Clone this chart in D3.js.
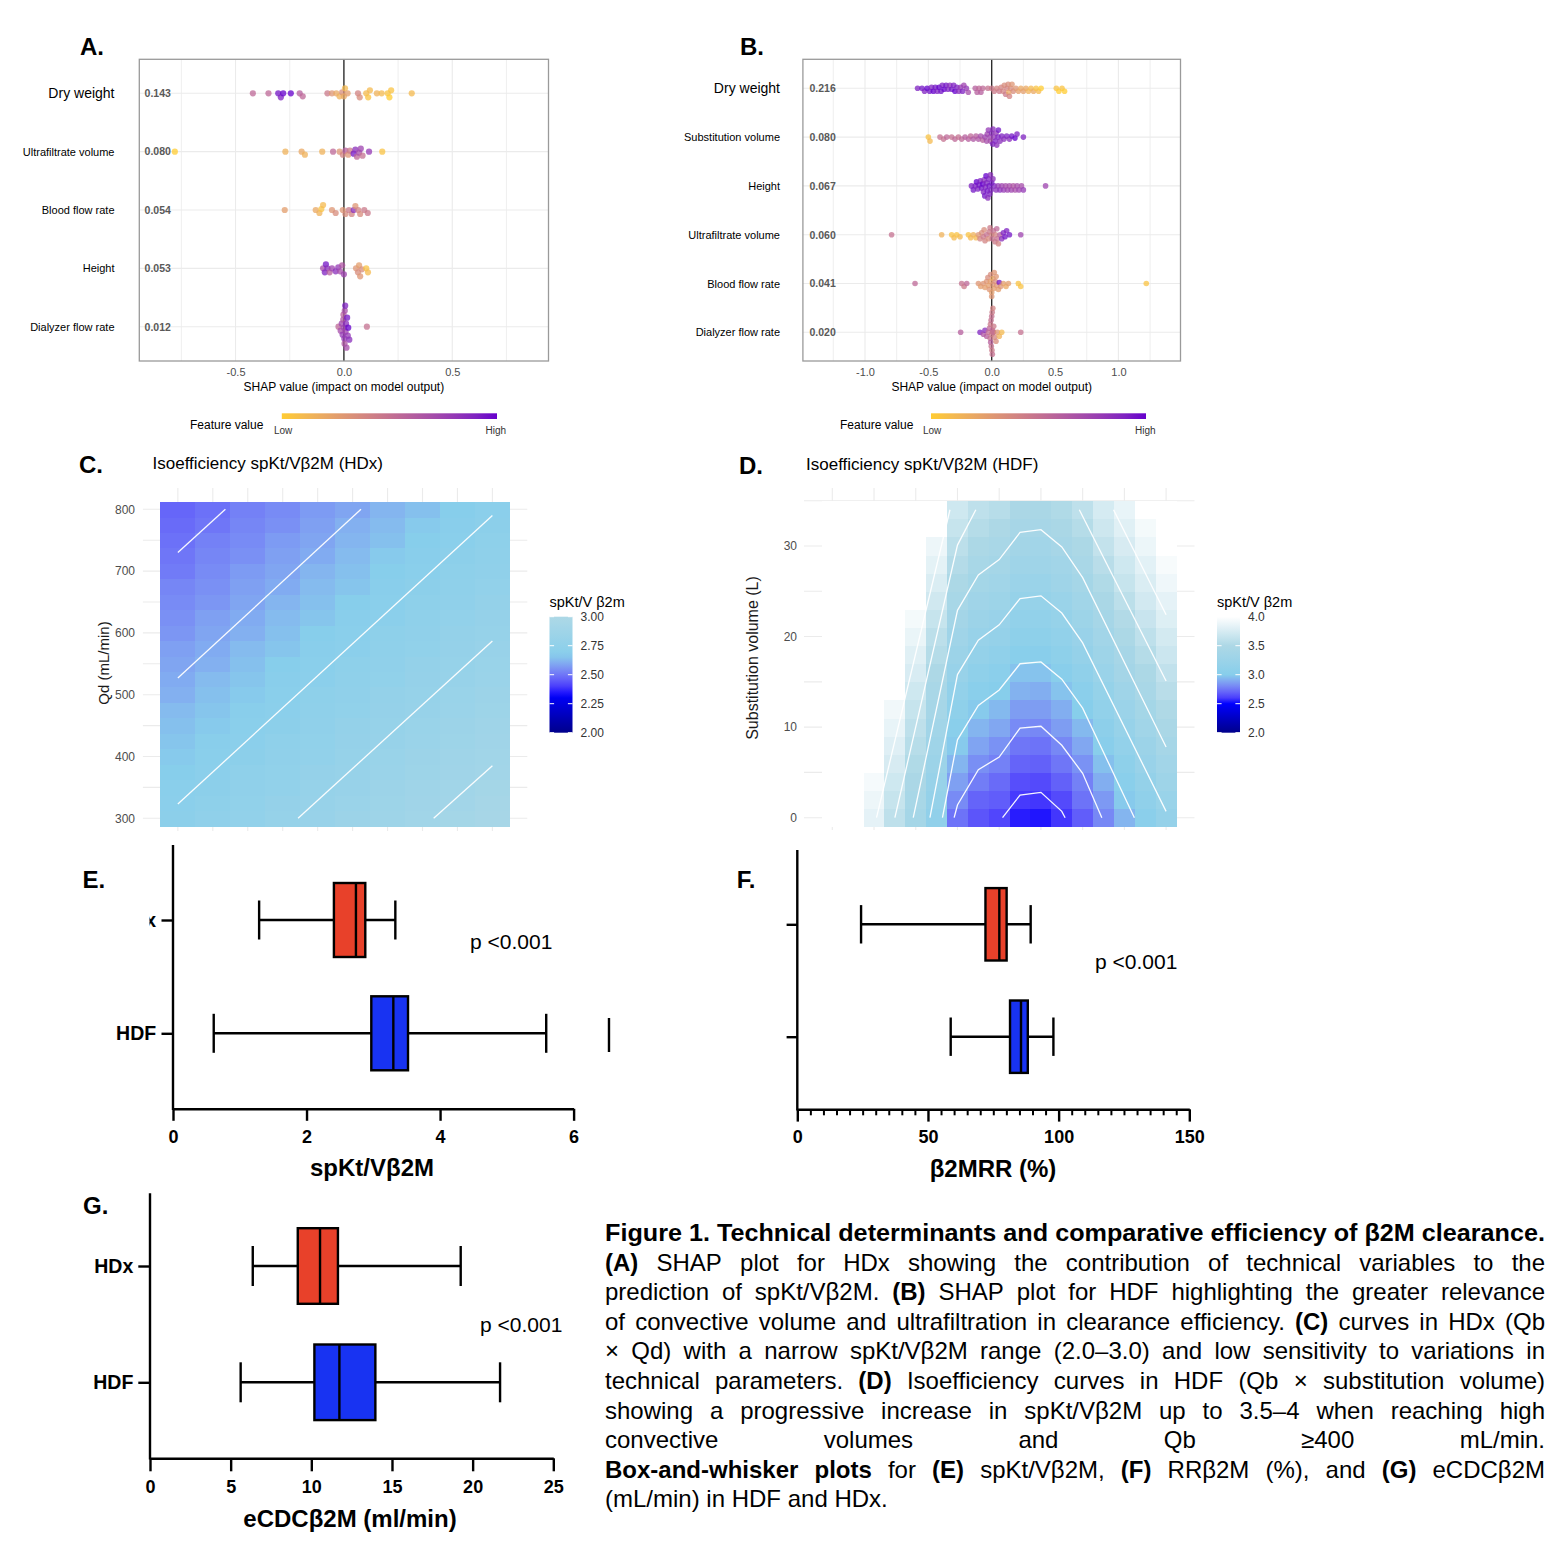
<!DOCTYPE html>
<html>
<head>
<meta charset="utf-8">
<title>Figure 1</title>
<script src="https://cdn.jsdelivr.net/npm/d3@7/dist/d3.min.js"></script>
<style>
  body { margin: 0; background: #fff; }
  svg { display: block; font-family: "Liberation Sans", Arial, Helvetica, sans-serif; }
</style>
</head>
<body>
<div id="fig"></div>
<script>
// ---------------- data ----------------

// A. SHAP for HDx (shap value, feature value 0 = low, 1 = high)
const aFeatures = ["Dry weight", "Ultrafiltrate volume", "Blood flow rate", "Height", "Dialyzer flow rate"]
const aImportance = ["0.143", "0.080", "0.054", "0.053", "0.012"]
const aDryShap = [-0.42, -0.348, -0.303, -0.291, -0.28, -0.245, -0.204, -0.19, -0.076, -0.055, -0.035, -0.02, -0.008, 0, 0.005, 0.017, 0.065, 0.073, 0.103, 0.112, 0.12, 0.152, 0.174, 0.202, 0.21, 0.218, 0.313]
const aDryFeat = [0.55, 0.55, 0.95, 0.9, 1.0, 1.0, 0.6, 0.55, 0.45, 0.3, 0.2, 0.15, 0.35, 0.2, 0.1, 0.25, 0.4, 0.35, 0.1, 0.05, 0.1, 0.15, 0.1, 0.05, 0.0, 0.05, 0.1]
const aUfShap = [-0.78, -0.27, -0.195, -0.18, -0.1, -0.05, -0.02, -0.005, 0.007, 0.02, 0.028, 0.045, 0.053, 0.06, 0.07, 0.078, 0.086, 0.116, 0.177]
const aUfFeat = [0.0, 0.15, 0.2, 0.15, 0.15, 0.55, 0.3, 0.4, 0.6, 0.3, 0.45, 0.95, 0.85, 0.55, 0.7, 0.75, 0.5, 0.8, 0.05]
const aQbShap = [-0.273, -0.13, -0.113, -0.104, -0.096, -0.055, -0.038, -0.005, 0.007, 0.023, 0.036, 0.045, 0.053, 0.066, 0.075, 0.094, 0.11]
const aQbFeat = [0.25, 0.2, 0.15, 0.05, 0.1, 0.3, 0.35, 0.3, 0.35, 0.45, 0.4, 0.85, 0.3, 0.4, 0.35, 0.45, 0.45]
const aHtShap = [-0.096, -0.088, -0.083, -0.076, -0.066, -0.055, -0.038, -0.026, -0.017, -0.008, 0, 0.056, 0.065, 0.07, 0.075, 0.083, 0.103, 0.111]
const aHtFeat = [0.7, 0.9, 0.95, 0.85, 0.6, 0.75, 0.85, 0.8, 0.7, 0.65, 0.75, 0.3, 0.35, 0.25, 0.3, 0.35, 0.05, 0.1]
const aQdShap = [-0.025, -0.015, -0.01, -0.006, -0.003, -0.002, 0, 0.002, 0.003, 0.004, 0.006, 0.008, 0.01, 0.012, 0.015, 0.018, 0.02, 0.025, 0.106]
const aQdFeat = [0.55, 0.7, 0.75, 0.8, 0.65, 0.6, 0.75, 0.8, 0.65, 0.7, 0.9, 0.75, 0.85, 0.7, 0.95, 0.8, 1.0, 0.85, 0.5]
const aTicks = [-0.5, 0, 0.5]

// B. SHAP for HDF
const bFeatures = ["Dry weight", "Substitution volume", "Height", "Ultrafiltrate volume", "Blood flow rate", "Dialyzer flow rate"]
const bImportance = ["0.216", "0.080", "0.067", "0.060", "0.041", "0.020"]
const bDryShap = [-0.585, -0.55, -0.53, -0.51, -0.49, -0.475, -0.46, -0.445, -0.43, -0.415, -0.4, -0.39, -0.375, -0.36, -0.345, -0.33, -0.315, -0.3, -0.29, -0.275, -0.26, -0.245, -0.23, -0.22, -0.2, -0.185, -0.13, -0.115, -0.1, -0.085, -0.07, -0.03, 0, 0.02, 0.04, 0.06, 0.075, 0.09, 0.1, 0.11, 0.12, 0.13, 0.135, 0.14, 0.15, 0.16, 0.17, 0.19, 0.21, 0.23, 0.25, 0.27, 0.29, 0.31, 0.33, 0.35, 0.37, 0.39, 0.51, 0.53, 0.555, 0.575]
const bDryFeat = [0.9, 0.95, 0.9, 1.0, 0.95, 0.9, 1.0, 0.95, 0.9, 1.0, 0.95, 0.9, 1.0, 0.95, 0.9, 0.85, 0.95, 0.9, 1.0, 0.9, 0.85, 0.8, 0.9, 0.75, 0.8, 0.7, 0.6, 0.6, 0.55, 0.6, 0.55, 0.5, 0.45, 0.45, 0.4, 0.45, 0.4, 0.4, 0.35, 0.45, 0.4, 0.35, 0.2, 0.4, 0.35, 0.3, 0.35, 0.3, 0.25, 0.2, 0.25, 0.2, 0.15, 0.1, 0.2, 0.05, 0.1, 0.0, 0.05, 0.0, 0.05, 0.0]
const bSubShap = [-0.5, -0.487, -0.408, -0.38, -0.355, -0.316, -0.29, -0.263, -0.237, -0.21, -0.184, -0.166, -0.145, -0.124, -0.105, -0.087, -0.071, -0.053, -0.04, -0.035, -0.026, -0.013, -0.01, 0, 0.008, 0.01, 0.018, 0.029, 0.035, 0.04, 0.05, 0.053, 0.066, 0.079, 0.097, 0.118, 0.14, 0.158, 0.184, 0.2, 0.25]
const bSubFeat = [0.05, 0.1, 0.5, 0.5, 0.55, 0.5, 0.55, 0.5, 0.55, 0.6, 0.6, 0.55, 0.65, 0.6, 0.65, 0.7, 0.6, 0.75, 0.7, 0.75, 0.8, 0.75, 0.7, 0.85, 0.9, 0.85, 0.8, 0.9, 0.8, 0.85, 0.9, 0.95, 0.85, 0.9, 0.85, 0.9, 0.85, 0.95, 1.0, 0.9, 0.9]
const bHtShap = [-0.16, -0.145, -0.13, -0.12, -0.11, -0.1, -0.09, -0.08, -0.07, -0.065, -0.06, -0.055, -0.05, -0.045, -0.04, -0.035, -0.03, -0.025, -0.02, -0.015, -0.01, -0.005, 0, 0.01, 0.02, 0.035, 0.05, 0.065, 0.08, 0.095, 0.11, 0.125, 0.14, 0.155, 0.17, 0.185, 0.2, 0.215, 0.235, 0.25, 0.425]
const bHtFeat = [0.9, 0.95, 0.9, 1.0, 0.9, 0.95, 0.9, 0.95, 1.0, 0.9, 0.85, 0.95, 0.9, 1.0, 0.9, 0.95, 0.85, 0.9, 0.95, 0.9, 0.85, 0.9, 0.95, 0.85, 0.9, 0.85, 0.8, 0.85, 0.75, 0.8, 0.7, 0.75, 0.7, 0.75, 0.65, 0.7, 0.7, 0.75, 0.7, 0.8, 0.75]
const bUfShap = [-0.79, -0.395, -0.316, -0.297, -0.276, -0.25, -0.184, -0.166, -0.145, -0.124, -0.105, -0.092, -0.079, -0.066, -0.06, -0.053, -0.04, -0.026, -0.02, -0.013, 0, 0.005, 0.013, 0.026, 0.03, 0.04, 0.045, 0.053, 0.066, 0.079, 0.092, 0.105, 0.118, 0.14, 0.229]
const bUfFeat = [0.5, 0.15, 0.05, 0.1, 0.05, 0.1, 0.05, 0.1, 0.15, 0.1, 0.3, 0.4, 0.35, 0.45, 0.35, 0.4, 0.5, 0.35, 0.45, 0.45, 0.4, 0.5, 0.5, 0.45, 0.4, 0.55, 0.5, 0.4, 0.6, 0.85, 0.9, 0.95, 0.9, 0.95, 0.75]
const bQbShap = [-0.605, -0.237, -0.218, -0.197, -0.105, -0.087, -0.066, -0.053, -0.04, -0.03, -0.026, -0.018, -0.01, -0.008, 0, 0, 0.008, 0.01, 0.018, 0.02, 0.029, 0.035, 0.04, 0.053, 0.06, 0.071, 0.092, 0.113, 0.132, 0.21, 0.229, 1.22]
const bQbFeat = [0.55, 0.5, 0.45, 0.55, 0.3, 0.25, 0.3, 0.25, 0.3, 0.35, 0.25, 0.3, 0.25, 0.35, 0.25, 0.3, 0.3, 0.2, 0.25, 0.3, 0.35, 0.3, 0.3, 0.25, 0.95, 0.3, 0.25, 0.2, 0.25, 0.05, 0.05, 0.05]
const bQdShap = [-0.245, -0.092, -0.066, -0.053, -0.04, -0.026, -0.018, -0.012, -0.01, -0.008, -0.005, -0.003, 0, 0, 0.002, 0.004, 0.005, 0.007, 0.009, 0.01, 0.012, 0.014, 0.016, 0.024, 0.034, 0.045, 0.06, 0.079, 0.229]
const bQdFeat = [0.6, 0.9, 0.65, 0.85, 0.6, 0.5, 0.55, 0.5, 0.45, 0.6, 0.5, 0.5, 0.45, 0.5, 0.45, 0.45, 0.5, 0.55, 0.4, 0.4, 0.5, 0.5, 0.45, 0.4, 0.35, 0.3, 0.15, 0.1, 0.5]
const bTicks = [-1, -0.5, 0, 0.5, 1]

// C. isoefficiency HDx: spKt/V b2m on Qb (columns) x Qd (rows, 300 -> 800)
const cQb = [250, 275, 300, 325, 350, 375, 400, 425, 450, 475]
const cQd = [300, 325, 350, 375, 400, 425, 450, 475, 500, 525, 550, 575, 600, 625, 650, 675, 700, 725, 750, 775, 800]
const cKtv = [
  [2.71, 2.74, 2.76, 2.79, 2.81, 2.84, 2.86, 2.89, 2.92, 2.94],
  [2.70, 2.72, 2.75, 2.78, 2.80, 2.83, 2.85, 2.88, 2.90, 2.93],
  [2.69, 2.71, 2.74, 2.76, 2.79, 2.81, 2.84, 2.87, 2.89, 2.92],
  [2.67, 2.70, 2.73, 2.75, 2.78, 2.80, 2.83, 2.85, 2.88, 2.90],
  [2.66, 2.69, 2.71, 2.74, 2.76, 2.79, 2.82, 2.84, 2.87, 2.89],
  [2.65, 2.68, 2.70, 2.73, 2.75, 2.78, 2.80, 2.83, 2.85, 2.88],
  [2.64, 2.66, 2.69, 2.71, 2.74, 2.77, 2.79, 2.82, 2.84, 2.87],
  [2.63, 2.65, 2.68, 2.70, 2.73, 2.75, 2.78, 2.80, 2.83, 2.85],
  [2.61, 2.64, 2.66, 2.69, 2.72, 2.74, 2.77, 2.79, 2.82, 2.84],
  [2.60, 2.63, 2.65, 2.68, 2.70, 2.73, 2.75, 2.78, 2.80, 2.83],
  [2.59, 2.61, 2.64, 2.67, 2.69, 2.72, 2.74, 2.77, 2.79, 2.82],
  [2.58, 2.60, 2.63, 2.65, 2.68, 2.70, 2.73, 2.75, 2.78, 2.81],
  [2.56, 2.59, 2.61, 2.64, 2.67, 2.69, 2.72, 2.74, 2.77, 2.79],
  [2.55, 2.58, 2.60, 2.63, 2.65, 2.68, 2.70, 2.73, 2.76, 2.78],
  [2.54, 2.56, 2.59, 2.62, 2.64, 2.67, 2.69, 2.72, 2.74, 2.77],
  [2.53, 2.55, 2.58, 2.60, 2.63, 2.65, 2.68, 2.71, 2.73, 2.76],
  [2.51, 2.54, 2.57, 2.59, 2.62, 2.64, 2.67, 2.69, 2.72, 2.74],
  [2.50, 2.53, 2.55, 2.58, 2.60, 2.63, 2.66, 2.68, 2.71, 2.73],
  [2.49, 2.52, 2.54, 2.57, 2.59, 2.62, 2.64, 2.67, 2.69, 2.72],
  [2.48, 2.50, 2.53, 2.55, 2.58, 2.61, 2.63, 2.66, 2.68, 2.71],
  [2.47, 2.49, 2.52, 2.54, 2.57, 2.59, 2.62, 2.64, 2.67, 2.70]
]
// iso-lines [Qb, Qd]
const cContours = [
  [[250, 730], [284, 800]],
  [[250, 527], [381, 800]],
  [[250, 323], [475, 790]],
  [[336, 300], [475, 587]],
  [[433, 300], [475, 385]]
]
const cYTicks = [300, 400, 500, 600, 700, 800]
const cLegendTicks = [2, 2.25, 2.5, 2.75, 3]

// D. isoefficiency HDF: spKt/V b2m on Qb (columns) x substitution volume (rows, 0 -> 34 L)
const dQb = [200, 225, 250, 275, 300, 325, 350, 375, 400, 425, 450, 475, 500, 525, 550, 575, 600]
const dVol = [0, 2, 4, 6, 8, 10, 12, 14, 16, 18, 20, 22, 24, 26, 28, 30, 32, 34]
const dKtv = [
  [4.0, 4.0, 3.84, 3.60, 3.39, 3.12, 2.74, 2.66, 2.62, 2.53, 2.52, 2.58, 2.68, 2.80, 2.93, 3.05, 3.17],
  [4.0, 4.0, 3.89, 3.65, 3.43, 3.17, 2.81, 2.70, 2.68, 2.59, 2.58, 2.63, 2.74, 2.85, 2.99, 3.11, 3.23],
  [4.0, 4.0, 3.94, 3.70, 3.47, 3.21, 2.87, 2.77, 2.72, 2.64, 2.63, 2.69, 2.78, 2.91, 3.04, 3.16, 3.29],
  [4.0, 4.0, 4.0, 3.75, 3.52, 3.26, 2.93, 2.82, 2.78, 2.70, 2.69, 2.75, 2.83, 2.96, 3.09, 3.22, 3.34],
  [4.0, 4.0, 4.0, 3.80, 3.56, 3.31, 2.99, 2.88, 2.83, 2.75, 2.74, 2.80, 2.89, 3.02, 3.15, 3.27, 3.40],
  [4.0, 4.0, 4.0, 3.86, 3.60, 3.35, 3.04, 2.93, 2.89, 2.81, 2.80, 2.86, 2.94, 3.07, 3.20, 3.33, 3.46],
  [4.0, 4.0, 4.0, 3.91, 3.65, 3.40, 3.10, 2.99, 2.94, 2.86, 2.86, 2.91, 3.00, 3.13, 3.25, 3.38, 3.51],
  [4.0, 4.0, 4.0, 4.0, 3.70, 3.45, 3.15, 3.04, 3.00, 2.92, 2.91, 2.97, 3.05, 3.18, 3.31, 3.44, 3.57],
  [4.0, 4.0, 4.0, 4.0, 3.76, 3.50, 3.21, 3.10, 3.05, 2.97, 2.97, 3.02, 3.11, 3.24, 3.37, 3.49, 3.62],
  [4.0, 4.0, 4.0, 4.0, 3.81, 3.55, 3.26, 3.16, 3.11, 3.03, 3.02, 3.08, 3.17, 3.29, 3.42, 3.55, 3.68],
  [4.0, 4.0, 4.0, 4.0, 3.87, 3.59, 3.32, 3.21, 3.17, 3.08, 3.08, 3.13, 3.22, 3.35, 3.48, 3.60, 3.73],
  [4.0, 4.0, 4.0, 4.0, 3.93, 3.65, 3.37, 3.27, 3.22, 3.14, 3.13, 3.19, 3.28, 3.40, 3.53, 3.66, 3.79],
  [4.0, 4.0, 4.0, 4.0, 4.0, 3.71, 3.43, 3.32, 3.28, 3.19, 3.19, 3.24, 3.33, 3.46, 3.59, 3.72, 3.84],
  [4.0, 4.0, 4.0, 4.0, 4.0, 3.77, 3.48, 3.38, 3.33, 3.25, 3.24, 3.30, 3.39, 3.52, 3.65, 3.77, 3.90],
  [4.0, 4.0, 4.0, 4.0, 4.0, 3.83, 3.54, 3.43, 3.39, 3.30, 3.30, 3.35, 3.44, 3.57, 3.70, 3.82, 3.95],
  [4.0, 4.0, 4.0, 4.0, 4.0, 3.89, 3.59, 3.49, 3.44, 3.36, 3.35, 3.41, 3.49, 3.63, 3.75, 3.88, 4.0],
  [4.0, 4.0, 4.0, 4.0, 4.0, 4.0, 3.65, 3.55, 3.50, 3.41, 3.41, 3.46, 3.55, 3.69, 3.81, 3.93, 4.0],
  [4.0, 4.0, 4.0, 4.0, 4.0, 4.0, 3.70, 3.60, 3.56, 3.47, 3.46, 3.52, 3.60, 3.74, 3.86, 4.0, 4.0]
]
// iso-lines [Qb, volume]
const dContours = [
  [[404, 0], [425, 2.5], [450, 2.8], [475, 0.7], [479, 0]],
  [[346, 0], [350, 1.4], [375, 5.3], [400, 6.7], [425, 9.9], [450, 10.1], [475, 8.0], [500, 4.9], [523, 0]],
  [[332, 0], [350, 8.6], [375, 12.4], [400, 14.1], [425, 17.0], [450, 17.2], [475, 15.3], [500, 12.1], [562, 0]],
  [[317, 0], [350, 15.8], [375, 19.6], [400, 21.3], [425, 24.2], [450, 24.5], [475, 22.6], [500, 19.3], [600, 0.7]],
  [[297, 0], [350, 22.9], [375, 26.8], [400, 28.5], [425, 31.5], [450, 31.8], [475, 29.9], [500, 26.5], [600, 7.8]],
  [[275, 0], [350, 30.1], [372, 34]],
  [[496, 34], [600, 15.1]],
  [[253, 0], [341, 34]],
  [[537, 34], [600, 22.4]]
]
const dYTicks = [0, 10, 20, 30]
const dLegendTicks = [2, 2.5, 3, 3.5, 4]

// E-G. box-and-whisker summaries (HDx, HDF)
const groups = ["HDx", "HDF"]
const eMin = [1.29, 0.61], eQ1 = [2.41, 2.97], eMed = [2.74, 3.30], eQ3 = [2.88, 3.52], eMax = [3.33, 5.59]
const fMin = [24.4, 58.7], fQ1 = [72.0, 81.4], fMed = [77.3, 85.6], fQ3 = [80.1, 88.2], fMax = [89.3, 98.0]
const gMin = [6.37, 5.62], gQ1 = [9.16, 10.19], gMed = [10.54, 11.74], gQ3 = [11.65, 13.97], gMax = [19.26, 21.7]
const eTicks = [0, 2, 4, 6]
const fTicks = [0, 50, 100, 150]
const gTicks = [0, 5, 10, 15, 20, 25]

// caption, line by line: [text, bold]
const capLines = [
  [["Figure 1. Technical determinants and comparative efficiency of β2M clearance.", 1]],
  [["(A)", 1], [" SHAP plot for HDx showing the contribution of technical variables to the", 0]],
  [["prediction of spKt/Vβ2M. ", 0], ["(B)", 1], [" SHAP plot for HDF highlighting the greater relevance", 0]],
  [["of convective volume and ultrafiltration in clearance efficiency. ", 0], ["(C)", 1], [" curves in HDx (Qb", 0]],
  [["× Qd) with a narrow spKt/Vβ2M range (2.0–3.0) and low sensitivity to variations in", 0]],
  [["technical parameters. ", 0], ["(D)", 1], [" Isoefficiency curves in HDF (Qb × substitution volume)", 0]],
  [["showing a progressive increase in spKt/Vβ2M up to 3.5–4 when reaching high", 0]],
  [["convective volumes and Qb ≥400 mL/min.", 0]],
  [["Box-and-whisker plots", 1], [" for ", 0], ["(E)", 1], [" spKt/Vβ2M, ", 0], ["(F)", 1], [" RRβ2M (%), and ", 0], ["(G)", 1], [" eCDCβ2M", 0]],
  [["(mL/min) in HDF and HDx.", 0]]
]

// ---------------- drawing ----------------
const FONT = '"Liberation Sans", Arial, Helvetica, sans-serif'
const svg = d3.select("#fig").append("svg").attr("width", 1568).attr("height", 1544)
svg.append("rect").attr("width", 1568).attr("height", 1544).attr("fill", "#fff")
const defs = svg.append("defs")

const shapColor = d3.interpolateLab("#FFCC33", "#6600CC")
const cColor = d3.scaleLinear().domain([2, 2.3333, 2.6667, 3])
  .range(["darkblue", "blue", "skyblue", "lightblue"]).interpolate(d3.interpolateLab).clamp(true)
const dColor = d3.scaleLinear().domain([2, 2.5, 3, 3.5, 4])
  .range(["darkblue", "blue", "skyblue", "lightblue", "white"]).interpolate(d3.interpolateLab).clamp(true)
const boxColors = ["#e8412a", "#1833f2"]

const letter = (t, x, y) =>
  svg.append("text").attr("x", x).attr("y", y).attr("font-size", 24).attr("font-weight", "bold").text(t)

// simple deterministic beeswarm (vertical offsets)
function swarm(xs, minD, step, maxOff) {
  const order = d3.range(xs.length).sort((a, b) => xs[a] - xs[b])
  const placed = []
  const off = xs.map(() => 0)
  order.forEach(i => {
    const px = xs[i]
    const near = placed.filter(p => Math.abs(p[0] - px) < minD)
    let k = 0, o = 0
    while (k < 300) {
      o = (k % 2 ? 1 : -1) * Math.ceil(k / 2) * step
      if (Math.abs(o) > maxOff) { o = 0; break }
      if (near.every(p => Math.hypot(p[0] - px, p[1] - o) >= minD)) break
      k++
    }
    off[i] = o
    placed.push([px, o])
  })
  return off
}

function shapPanel(p) {
  const g = svg.append("g")
  const x = d3.scaleLinear().domain([-p.lim, p.lim]).range([p.left, p.right])
  const y = d3.scalePoint().domain(p.names).range([p.rowTop, p.rowBot])

  g.selectAll(".gx").data(d3.range(-p.gridMax, p.gridMax + 0.001, 0.25)).join("line")
    .attr("x1", d => x(d)).attr("x2", d => x(d)).attr("y1", p.top).attr("y2", p.bottom)
    .attr("stroke", "#ebebeb").attr("stroke-width", d => Math.abs(d * 2 - Math.round(d * 2)) < 1e-6 ? 1.1 : 0.8)
  g.selectAll(".gy").data(p.names).join("line")
    .attr("x1", p.left).attr("x2", p.right).attr("y1", d => y(d)).attr("y2", d => y(d))
    .attr("stroke", "#ebebeb").attr("stroke-width", 1.1)
  g.append("line").attr("x1", x(0)).attr("x2", x(0)).attr("y1", p.top).attr("y2", p.bottom)
    .attr("stroke", "#222").attr("stroke-width", 1.3)

  p.shap.forEach((vals, r) => {
    const xs = vals.map(v => x(v))
    const off = swarm(xs, p.minD, 1, 24)
    g.append("g").selectAll("circle").data(vals).join("circle")
      .attr("cx", (d, i) => xs[i])
      .attr("cy", (d, i) => y(p.names[r]) + off[i])
      .attr("r", p.r)
      .attr("fill", (d, i) => shapColor(p.feat[r][i]))
      .attr("fill-opacity", 0.75)
  })

  g.append("rect").attr("x", p.left).attr("y", p.top)
    .attr("width", p.right - p.left).attr("height", p.bottom - p.top)
    .attr("fill", "none").attr("stroke", "#9a9a9a").attr("stroke-width", 1.3)

  // feature names + mean |SHAP|
  g.selectAll(".fn").data(p.names).join("text")
    .attr("x", p.labelX).attr("y", (d, i) => y(d) + (i === 0 ? 5 : 4))
    .attr("text-anchor", "end").attr("font-size", (d, i) => i === 0 ? 14 : 11).text(d => d)
  g.selectAll(".iv").data(p.imp).join("text")
    .attr("x", p.valX).attr("y", (d, i) => y(p.names[i]) + 3.8)
    .attr("font-size", 10.5).attr("font-weight", "bold").attr("fill", "#595959").text(d => d)

  // x axis
  const ax = g.append("g").attr("transform", `translate(0,${p.bottom})`)
    .call(d3.axisBottom(x).tickValues(p.ticks).tickSize(0).tickPadding(7.2).tickFormat(d => d.toFixed(1)))
  ax.select(".domain").remove()
  ax.attr("font-family", FONT).attr("font-size", 11).attr("color", "#4d4d4d")
  g.append("text").attr("x", x(0)).attr("y", 391).attr("text-anchor", "middle").attr("font-size", 12)
    .text("SHAP value (impact on model output)")

  // feature value colour bar
  const gid = "grad" + p.id
  const grad = defs.append("linearGradient").attr("id", gid)
  d3.range(0, 1.0001, 0.1).forEach(t => grad.append("stop").attr("offset", t).attr("stop-color", shapColor(t)))
  g.append("rect").attr("x", p.cb[0]).attr("y", 413.3).attr("width", p.cb[1] - p.cb[0]).attr("height", 5.7)
    .attr("fill", `url(#${gid})`)
  g.append("text").attr("x", p.fvX).attr("y", 429).attr("font-size", 12).text("Feature value")
  g.append("text").attr("x", p.lowX).attr("y", 433.5).attr("font-size", 10).attr("fill", "#333").text("Low")
  g.append("text").attr("x", p.highX).attr("y", 433.5).attr("font-size", 10).attr("fill", "#333").text("High")
}

function heatPanel(p) {
  const g = svg.append("g")
  const x = d3.scaleLinear().domain(p.xDom).range(p.xRange)
  const y = d3.scaleLinear().domain(p.yDom).range(p.yRange)

  g.selectAll(".gx").data(p.gridX).join("line")
    .attr("x1", d => x(d)).attr("x2", d => x(d)).attr("y1", p.top).attr("y2", p.bottom)
    .attr("stroke", "#ebebeb").attr("stroke-width", 1.1)
  g.selectAll(".gy").data(p.gridY).join("line")
    .attr("x1", p.left).attr("x2", p.right).attr("y1", d => y(d)).attr("y2", d => y(d))
    .attr("stroke", "#ebebeb").attr("stroke-width", 1.1)

  const cells = []
  p.rows.forEach((rv, j) => p.cols.forEach((cv, i) => cells.push({ c: cv, r: rv, v: p.vals[j][i] })))
  const cw = x(p.dx) - x(0), ch = y(0) - y(p.dy)
  g.append("g").attr("shape-rendering", "crispEdges").selectAll("rect").data(cells).join("rect")
    .attr("x", d => x(d.c - p.dx / 2)).attr("y", d => y(d.r + p.dy / 2))
    .attr("width", cw + 0.5).attr("height", ch + 0.5)
    .attr("fill", d => p.color(d.v))

  const line = d3.line().x(d => x(d[0])).y(d => y(d[1]))
  g.selectAll(".iso").data(p.contours).join("path")
    .attr("d", line).attr("fill", "none").attr("stroke", "#fff").attr("stroke-width", 1.3).attr("stroke-opacity", 0.95)

  const ay = g.append("g").attr("transform", `translate(${p.left},0)`)
    .call(d3.axisLeft(y).tickValues(p.yTicks).tickSize(0).tickPadding(p.left - p.labelRight))
  ay.select(".domain").remove()
  ay.attr("font-family", FONT).attr("font-size", 12).attr("color", "#4d4d4d")

  g.append("text").attr("transform", `translate(${p.yTitleX},${p.yTitleY}) rotate(-90)`)
    .attr("text-anchor", "middle").attr("font-size", p.yTitleSize).attr("fill", "#1a1a1a").text(p.yTitle)
  g.append("text").attr("x", p.titleX).attr("y", p.titleY).attr("font-size", 17).text(p.title)

  // legend
  const gid = "grad" + p.id
  const grad = defs.append("linearGradient").attr("id", gid).attr("x1", 0).attr("y1", 1).attr("x2", 0).attr("y2", 0)
  d3.range(0, 1.0001, 0.05).forEach(t =>
    grad.append("stop").attr("offset", t).attr("stop-color", p.color(p.legDom[0] + t * (p.legDom[1] - p.legDom[0]))))
  const ly = d3.scaleLinear().domain(p.legDom).range([732.7, 616.7])
  g.append("rect").attr("x", p.legX).attr("y", 616.7).attr("width", 23).attr("height", 116).attr("fill", `url(#${gid})`)
  p.legTicks.forEach(v => {
    g.append("line").attr("x1", p.legX).attr("x2", p.legX + 4.6).attr("y1", ly(v)).attr("y2", ly(v)).attr("stroke", "#fff")
    g.append("line").attr("x1", p.legX + 18.4).attr("x2", p.legX + 23).attr("y1", ly(v)).attr("y2", ly(v)).attr("stroke", "#fff")
  })
  g.selectAll(".lt").data(p.legTicks).join("text")
    .attr("x", p.legX + 31).attr("y", d => ly(d) + 4.2).attr("font-size", 12).attr("fill", "#333")
    .text(d => d3.format(p.legFmt)(d))
  g.append("text").attr("x", p.legX).attr("y", 607).attr("font-size", 14.5).text("spKt/V β2m")
}

function boxPanel(p) {
  const g = svg.append("g")
  const x = d3.scaleLinear().domain(p.dom).range([p.x0, p.x1])
  const y = d3.scalePoint().domain(groups).range(p.rows)

  g.append("line").attr("x1", p.x0).attr("x2", p.x0).attr("y1", p.top).attr("y2", p.base + 1.2)
    .attr("stroke", "#000").attr("stroke-width", 2.4)
  const ay = g.append("g").attr("transform", `translate(${p.x0},0)`)
    .call(d3.axisLeft(y).tickSize(p.yTick).tickFormat(() => ""))
  ay.select(".domain").remove()
  ay.selectAll("line").attr("stroke", "#000").attr("stroke-width", 2.4)

  if (p.minor) {
    const am = g.append("g").attr("transform", `translate(0,${p.base})`)
      .call(d3.axisBottom(x).tickValues(p.minor).tickSize(6).tickFormat(() => ""))
    am.select(".domain").remove()
    am.selectAll("line").attr("stroke", "#000").attr("stroke-width", 2)
  }
  const ax = g.append("g").attr("transform", `translate(0,${p.base})`)
    .call(d3.axisBottom(x).tickValues(p.ticks).tickSize(p.xTick).tickSizeOuter(0).tickPadding(p.pad)
      .tickFormat(d3.format("d")))
  ax.select(".domain").attr("stroke", "#000").attr("stroke-width", 2.4)
  ax.selectAll("line").attr("stroke", "#000").attr("stroke-width", 2.4)
  ax.attr("font-family", FONT).attr("font-size", 18).attr("font-weight", "bold").attr("color", "#000")

  groups.forEach((grp, i) => {
    const cy = y(grp)
    g.append("line").attr("x1", x(p.min[i])).attr("x2", x(p.max[i])).attr("y1", cy).attr("y2", cy)
      .attr("stroke", "#000").attr("stroke-width", 2.4)
    ;[p.min[i], p.max[i]].forEach(v =>
      g.append("line").attr("x1", x(v)).attr("x2", x(v)).attr("y1", cy - p.capH).attr("y2", cy + p.capH)
        .attr("stroke", "#000").attr("stroke-width", 2.4))
    g.append("rect").attr("x", x(p.q1[i])).attr("y", cy - p.boxH)
      .attr("width", x(p.q3[i]) - x(p.q1[i])).attr("height", 2 * p.boxH)
      .attr("fill", boxColors[i]).attr("stroke", "#000").attr("stroke-width", 2.4)
    g.append("line").attr("x1", x(p.med[i])).attr("x2", x(p.med[i])).attr("y1", cy - p.boxH).attr("y2", cy + p.boxH)
      .attr("stroke", "#000").attr("stroke-width", 2.4)
  })

  if (p.labelRight) {
    groups.forEach(grp => {
      const t = g.append("text").attr("x", p.labelRight).attr("y", y(grp) + 7).attr("text-anchor", "end")
        .attr("font-size", 19.5).attr("font-weight", "bold").text(grp)
      if (p.clip && grp === "HDx") t.attr("clip-path", `url(#${p.clip})`)
    })
  }
  g.append("text").attr("x", p.pX).attr("y", p.pY).attr("font-size", 21).text("p <0.001")
  g.append("text").attr("x", p.titleX).attr("y", p.titleY).attr("text-anchor", "middle")
    .attr("font-size", 24).attr("font-weight", "bold").text(p.title)
  return x
}

// ---- A & B ----
letter("A.", 80, 55)
shapPanel({
  id: "A", names: aFeatures, imp: aImportance,
  shap: [aDryShap, aUfShap, aQbShap, aHtShap, aQdShap],
  feat: [aDryFeat, aUfFeat, aQbFeat, aHtFeat, aQdFeat],
  lim: 0.944, left: 139.3, right: 548.5, top: 59.3, bottom: 361,
  rowTop: 93.3, rowBot: 326.7, gridMax: 0.75, ticks: aTicks,
  labelX: 114.5, valX: 144.6, r: 3.1, minD: 4.2,
  cb: [281.8, 497], fvX: 190, lowX: 274, highX: 485.6
})
letter("B.", 740, 55)
shapPanel({
  id: "B", names: bFeatures, imp: bImportance,
  shap: [bDryShap, bSubShap, bHtShap, bUfShap, bQbShap, bQdShap],
  feat: [bDryFeat, bSubFeat, bHtFeat, bUfFeat, bQbFeat, bQdFeat],
  lim: 1.49, left: 802.9, right: 1180.5, top: 59.3, bottom: 361,
  rowTop: 88.3, rowBot: 332.3, gridMax: 1.25, ticks: bTicks,
  labelX: 780, valX: 809.5, r: 2.8, minD: 3.7,
  cb: [931, 1146], fvX: 840, lowX: 923, highX: 1135
})

// ---- C & D ----
letter("C.", 79, 473)
heatPanel({
  id: "C", cols: cQb, rows: cQd, vals: cKtv, color: cColor, dx: 25, dy: 25,
  xDom: [225, 500], xRange: [142.9, 527.35], yDom: [300, 800], yRange: [818.3, 509.3],
  left: 142.9, right: 527.3, top: 488, bottom: 831,
  gridX: cQb, gridY: d3.range(300, 801, 50), contours: cContours,
  yTicks: cYTicks, labelRight: 135,
  yTitle: "Qd (mL/min)", yTitleX: 108.5, yTitleY: 663, yTitleSize: 15,
  title: "Isoefficiency spKt/Vβ2M (HDx)", titleX: 152.5, titleY: 468.5,
  legX: 549.5, legDom: [2, 3], legTicks: cLegendTicks, legFmt: ".2f"
})
letter("D.", 739, 474)
heatPanel({
  id: "D", cols: dQb, rows: dVol, vals: dKtv, color: dColor, dx: 25, dy: 2,
  xDom: [200, 600], xRange: [832.3, 1166.1], yDom: [0, 30], yRange: [817.7, 546],
  left: 804, right: 1194.5, top: 488, bottom: 830,
  gridX: d3.range(200, 601, 50), gridY: d3.range(0, 36, 5), contours: dContours,
  yTicks: dYTicks, labelRight: 797,
  yTitle: "Substitution volume (L)", yTitleX: 757.5, yTitleY: 658, yTitleSize: 16,
  title: "Isoefficiency spKt/Vβ2M (HDF)", titleX: 806, titleY: 470,
  legX: 1217, legDom: [2, 4], legTicks: dLegendTicks, legFmt: ".1f"
})

// ---- E, F, G ----
defs.append("clipPath").attr("id", "clipE").append("rect").attr("x", 149.5).attr("y", 880).attr("width", 40).attr("height", 80)
letter("E.", 82.6, 888)
const xE = boxPanel({
  dom: [0, 6], x0: 173, x1: 573.6, base: 1108.8, top: 845, rows: [920, 1033.3],
  ticks: eTicks, xTick: 12, pad: 9.4, yTick: 11.5, boxH: 37, capH: 19.5,
  min: eMin, q1: eQ1, med: eMed, q3: eQ3, max: eMax,
  labelRight: 156.2, clip: "clipE",
  pX: 470, pY: 949, title: "spKt/Vβ2M", titleX: 372, titleY: 1176
})
// stray edge mark to the right of panel E
svg.append("line").attr("x1", xE(6.53)).attr("x2", xE(6.53)).attr("y1", 1018).attr("y2", 1052)
  .attr("stroke", "#000").attr("stroke-width", 2.4)

letter("F.", 736.7, 888)
boxPanel({
  dom: [0, 150], x0: 797.3, x1: 1189.3, base: 1109.3, top: 850, rows: [924.3, 1036.7],
  ticks: fTicks, minor: d3.range(5, 150, 5).filter(v => v % 50 !== 0), xTick: 12.3, pad: 8.6,
  yTick: 10.7, boxH: 36.2, capH: 19.2,
  min: fMin, q1: fQ1, med: fMed, q3: fQ3, max: fMax,
  pX: 1095, pY: 969, title: "β2MRR (%)", titleX: 993, titleY: 1177
})

letter("G.", 83, 1213.5)
boxPanel({
  dom: [0, 25], x0: 150, x1: 553.3, base: 1458.3, top: 1193.3, rows: [1266, 1382.3],
  ticks: gTicks, xTick: 13, pad: 8.9, yTick: 11.7, boxH: 37.8, capH: 20,
  min: gMin, q1: gQ1, med: gMed, q3: gQ3, max: gMax,
  labelRight: 133.3,
  pX: 480, pY: 1332, title: "eCDCβ2M (ml/min)", titleX: 350, titleY: 1527
})

// ---- caption (justified) ----
const capX = 605, capW = 940, capY0 = 1241, capDy = 29.6, capFont = 24
capLines.forEach((segs, li) => {
  const yb = capY0 + li * capDy
  if (li === 0) {
    svg.append("text").attr("x", capX).attr("y", yb).attr("font-size", capFont).attr("font-weight", "bold")
      .attr("textLength", capW).attr("lengthAdjust", "spacingAndGlyphs").text(segs[0][0])
    return
  }
  const words = []
  segs.forEach(([t, b]) => t.split(" ").forEach(w => { if (w) words.push({ t: w, b }) }))
  const gl = svg.append("g")
  const nodes = words.map(w => gl.append("text").attr("y", yb).attr("font-size", capFont)
    .attr("font-weight", w.b ? "bold" : "normal").text(w.t))
  const widths = nodes.map(n => n.node().getComputedTextLength())
  const total = d3.sum(widths)
  const last = li === capLines.length - 1
  let gap = last ? capFont * 0.278 : (capW - total) / (words.length - 1)
  let sx = 1
  if (gap < capFont * 0.2) {
    gap = capFont * 0.2
    sx = capW / (total + gap * (words.length - 1))
  }
  let cx = 0
  nodes.forEach((n, i) => { n.attr("x", cx); cx += widths[i] + gap })
  gl.attr("transform", `translate(${capX},0) scale(${sx},1)`)
})
</script>
</body>
</html>
